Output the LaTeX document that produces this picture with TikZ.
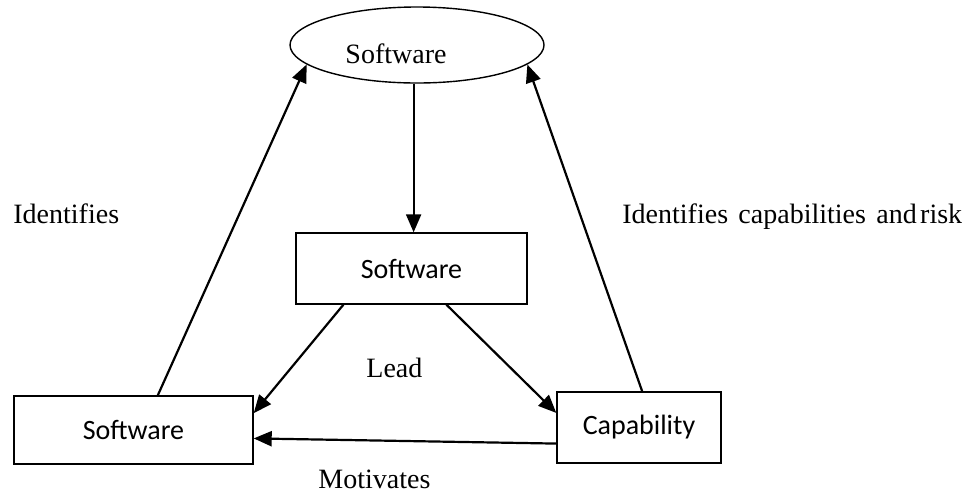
\documentclass[tikz,border=0pt]{standalone}
\usepackage{fontspec}
\setmainfont{Liberation Serif}
\newfontfamily\calfont{Carlito}
\usetikzlibrary{shapes.geometric,arrows.meta}
\tikzset{
  box/.style={draw, line width=0.7pt, rectangle, inner sep=0pt, font=\calfont\fontsize{14}{16}\selectfont},
  oval/.style={draw, line width=0.7pt, ellipse, inner sep=0pt},
  lbl/.style={inner sep=0pt, anchor=base west, font=\fontsize{14}{16}\selectfont},
  arr/.style={line width=1.1pt, -{Triangle[length=9pt,width=7.5pt]}}
}
\begin{document}
\begin{tikzpicture}[x=0.5pt,y=-0.5pt]
\useasboundingbox (0,0) rectangle (969,494);
\node[oval, minimum width=127pt, minimum height=38pt] (E) at (417,45) {};
\node[lbl, anchor=base] (Et) at (396,63) {Software};
\node[box, minimum width=115.5pt, minimum height=35.5pt] (C) at (411.5,268.5) {Software};
\node[box, minimum width=119.5pt, minimum height=34pt] (L) at (133.5,430) {Software};
\node[box, minimum width=82pt, minimum height=35.5pt] (K) at (639,427.5) {Capability};
\node[lbl] (id1) at (13,223) {Identifies};
\node[lbl] (id2) at (622,223) {Identifies\hspace{0.37em}capabilities\hspace{0.37em}and\hspace{0.12em}risk};
\node[lbl] (lead) at (366,377) {Lead};
\node[lbl] (mot) at (318,488) {Motivates};
\draw[arr] (L.55) -- (E.190);
\draw[arr] (K.85) -- (E.350);
\draw[arr] (E.265) -- (E.265 |- C.north);
\draw[arr] (C.208) -- (L.8);
\draw[arr] (C.314) -- (K.170);
\draw[arr] (K.191) -- (L.356);
\end{tikzpicture}
\end{document}
